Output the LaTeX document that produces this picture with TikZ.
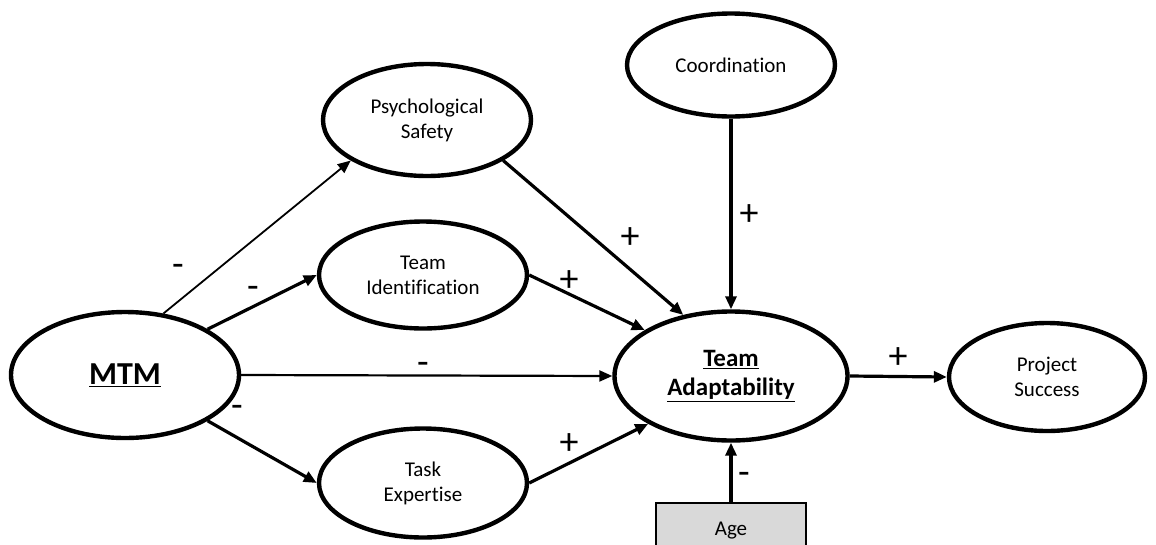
\documentclass[tikz,border=0pt]{standalone}
\usepackage{fontspec}
\setmainfont{Carlito}[Ligatures={NoCommon}]
\usetikzlibrary{shapes.geometric,arrows.meta}
\begin{document}
\begin{tikzpicture}[x=1pt,y=-1pt,
  construct/.style={ellipse,draw,line width=4.4pt,inner sep=0pt,align=center,
    font=\fontsize{21}{25}\selectfont},
  keybox/.style={ellipse,draw,line width=4.4pt,inner sep=0pt,align=center},
  linkthick/.style={line width=3.2pt,-{Triangle[length=13pt,width=11pt]}},
  linkthin/.style={line width=1.8pt,-{Triangle[length=13pt,width=11pt]}},
  sign/.style={font=\fontsize{38}{44}\selectfont,inner sep=0pt}]
\useasboundingbox (0,0) rectangle (1156,544);

% constructs
\node[keybox,minimum width=228pt,minimum height=126pt,
  font=\fontsize{32}{38}\bfseries] (mtm) at (125,375) {\underline{MTM}};
\node[construct,minimum width=208pt,minimum height=112pt] (psy) at (427,120) {Psychological\\Safety};
\node[construct,minimum width=208pt,minimum height=107pt] (tid) at (423,275) {Team\\Identification};
\node[construct,minimum width=208pt,minimum height=109pt] (tex) at (423,483) {Task\\Expertise};
\node[construct,minimum width=208pt,minimum height=103pt] (coo) at (731,65) {Coordination};
\node[keybox,minimum width=233pt,minimum height=129pt,
  font=\fontsize{25}{29}\bfseries] (ta) at (731,376) {\underline{Team}\\\underline{Adaptability}};
\node[construct,minimum width=196pt,minimum height=108pt] (ps) at (1047,377) {Project\\Success};
\node[draw,line width=1.6pt,fill=black!15,minimum width=150pt,minimum height=56pt,
  inner sep=0pt,font=\fontsize{21}{25}\selectfont] (age) at (731,531) {Age};

% paths
\draw[linkthin] (mtm.58) -- (psy.208);
\draw[linkthick] (mtm.29) -- (tid.west);
\draw[linkthin,line width=2.2pt] (mtm.east) -- (ta.west);
\draw[linkthick] (mtm.-29) -- (tex.west);
\draw[linkthick] (psy.-28) -- (ta.128);
\draw[linkthick] (tid.east) -- (ta.152);
\draw[linkthick] (tex.east) -- (ta.210);
\draw[linkthick] (coo.south) -- (ta.north);
\draw[linkthick] (ta.east) -- (ps.west);
\draw[linkthick] (age.north) -- (ta.south);

% signs
\node[sign] (s1) at (178,270) {-};
\node[sign] (s2) at (253,292) {-};
\node[sign] (s3) at (423,368) {-};
\node[sign] (s4) at (237,411) {-};
\node[sign] (s5) at (630,238) {+};
\node[sign] (s6) at (569,281) {+};
\node[sign] (s7) at (569,444) {+};
\node[sign] (s8) at (749,215) {+};
\node[sign] (s9) at (898,358) {+};
\node[sign] (s10) at (744,478) {-};
\end{tikzpicture}
\end{document}
